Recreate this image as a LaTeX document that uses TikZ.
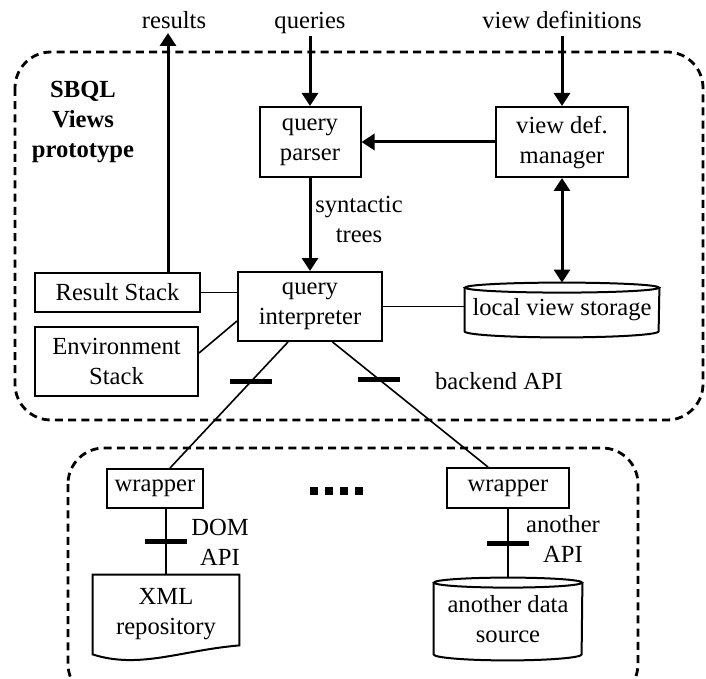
\documentclass[tikz,border=0pt]{standalone}
\usepackage{fontspec}
\setmainfont{Liberation Serif}
\usetikzlibrary{arrows.meta}

\begin{document}
\begin{tikzpicture}[x=0.5pt,y=-0.5pt,
  font=\fontsize{12.3}{15}\selectfont,
  box/.style={draw,line width=1pt,inner sep=0pt,align=center},
  plain/.style={inner sep=0pt,align=center},
  tag/.style={inner sep=1pt,text height=9pt,text depth=2.5pt},
  heading/.style={plain,font=\fontsize{12.3}{15}\selectfont\bfseries},
  flow/.style={line width=1.5pt,-{Triangle[length=6.5pt,width=8pt]}},
  twoway/.style={line width=1.5pt,{Triangle[length=6.5pt,width=8pt]}-{Triangle[length=6.5pt,width=8pt]}},
  link/.style={line width=0.8pt},
  frame/.style={line width=1.4pt,dash pattern=on 4pt off 2.6pt,rounded corners=18pt},
  api/.style={fill,inner sep=0pt,minimum width=21pt,minimum height=2.5pt}]

\clip (0,0) rectangle (706,679);

% inputs and outputs
\node[tag] (res) at (174,22) {results};
\node[tag] (qry) at (310,22) {queries};
\node[tag] (vdef) at (562,22) {view definitions};
\coordinate (resout) at (168,33);

% prototype
\draw[frame] (15,52) rectangle (703,420);
\node[heading] (title) at (83,122) {SBQL\\Views\\prototype};
\node[box,minimum width=50.5pt,minimum height=35pt] (parser) at (310,142) {query\\parser};
\node[box,minimum width=66pt,minimum height=35pt] (manager) at (562,142) {view def.\\manager};
\node[box,minimum width=72pt,minimum height=34.5pt] (interp) at (310,306.5) {query\\interpreter};
\node[box,minimum width=82.5pt,minimum height=19.5pt] (rstack) at (117.5,292.5) {Result Stack};
\node[box,minimum width=81.5pt,minimum height=34.5pt] (estack) at (116.5,361.5) {Environment\\Stack};
\node[plain,minimum width=97pt,minimum height=27pt] (store) at (562,310) {local view storage};
\draw[line width=1pt] ([yshift=-2.5pt]store.north) ellipse [x radius=48.5pt,y radius=2.5pt];
\draw[line width=1pt] ([yshift=-2.5pt]store.north west) -- ([yshift=3pt]store.south west)
  arc[start angle=180,end angle=360,x radius=48.5pt,y radius=3pt] -- ([yshift=-2.5pt]store.north east);
\node[plain] (trees) at (359,219) {syntactic\\trees};
\node[plain] (backend) at (499,381) {backend API};

\draw[flow] (rstack.north -| resout) -- (resout);
\draw[flow] (qry.south) -- (parser.north);
\draw[flow] (vdef.south) -- (manager.north);
\draw[flow] (manager.west) -- (parser.east);
\draw[flow] (parser.south) -- (interp.north);
\draw[twoway] (manager.south) -- (store.north);
\draw[link] (rstack.east) -- (rstack.east -| interp.west);
\draw[link] ([yshift=4.25pt]estack.east) -- ([yshift=-7.25pt]interp.west);
\draw[link] (interp.east) -- (interp.east -| store.west);

% data sources
\draw[frame] (68,448) rectangle (638,700);
\node[box,minimum width=48pt,minimum height=19.5pt] (lwrap) at (155,488.5) {wrapper};
\node[box,minimum width=61pt,minimum height=20pt] (rwrap) at (508,488) {wrapper};
\node[plain,minimum width=73pt,minimum height=39.5pt] (xml) at (166,614.5) {XML\\repository};
\draw[line width=1pt] (xml.south west) -- (xml.north west) -- (xml.north east) -- ([yshift=4.5pt]xml.south east)
  .. controls +(-59,5) and +(47,15) .. (xml.south west) -- cycle;
\node[plain,minimum width=74pt,minimum height=41pt] (src) at (508,619) {another data\\source};
\draw[line width=1pt] ([yshift=-2.5pt]src.north) ellipse [x radius=37pt,y radius=2.5pt];
\draw[line width=1pt] ([yshift=-2.5pt]src.north west) -- ([yshift=3pt]src.south west)
  arc[start angle=180,end angle=360,x radius=37pt,y radius=3pt] -- ([yshift=-2.5pt]src.north east);
\node[plain] (domapi) at (220,542) {DOM\\API};
\node[plain] (anapi) at (563,539) {another\\API};
\foreach \i in {0,...,3}
  \fill (310+15*\i,487) rectangle ++(8,8);

\draw[link] ([xshift=-11pt]interp.south) -- node[api,pos=0.31] (bar1) {} ([xshift=7.5pt]lwrap.north);
\draw[link] ([xshift=11.25pt]interp.south) -- node[api,pos=0.3] (bar2) {} ([xshift=-10pt]rwrap.north);
\draw[link] (lwrap.south -| xml.north) -- node[api] (bar3) {} (xml.north);
\draw[link] (rwrap.south) -- node[api] (bar4) {} (src.north);

\end{tikzpicture}
\end{document}
